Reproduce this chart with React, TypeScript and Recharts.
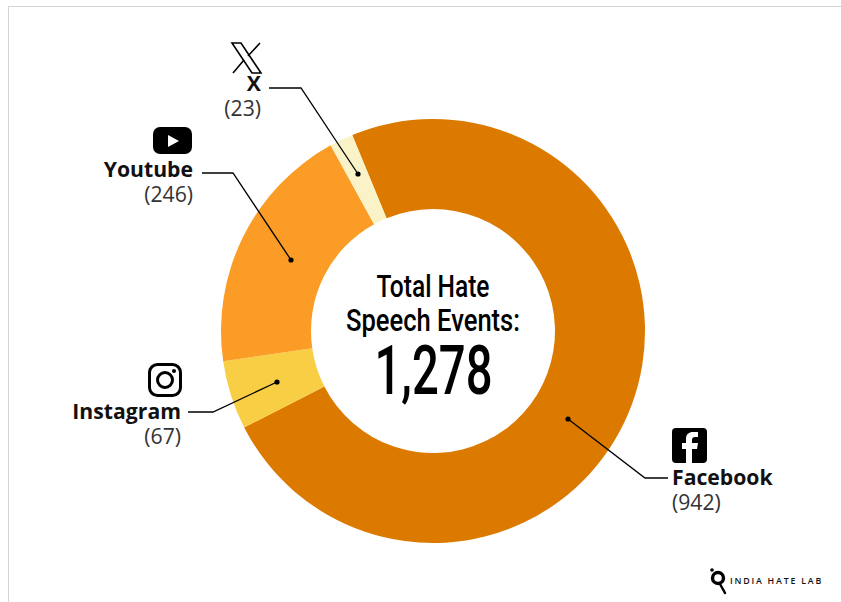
import { PieChart, Pie, Cell } from "recharts";

const platforms = ["Facebook", "Instagram", "Youtube", "X"];
const events = [942, 67, 246, 23];
const sliceColors = ["#DC7A00", "#F8CE45", "#FA9C25", "#FBF3C8"];

const pieData = platforms.map((name, i) => ({ name, value: events[i] }));

const LABEL = "'Open Sans', sans-serif";
const CONDENSED = "Roboto, sans-serif";

// leader polylines: text end -> elbow -> dot inside the slice
const leaders = [
  [[668, 478], [645, 478], [568, 419]],
  [[188, 412], [213, 412], [277, 382]],
  [[202, 173], [233, 173], [291, 260]],
  [[269, 88], [301, 88], [358, 174]],
];
const captionAnchors: { x: number; y: number; anchor: "start" | "end" }[] = [
  { x: 672, y: 485, anchor: "start" },
  { x: 181, y: 419, anchor: "end" },
  { x: 193, y: 177, anchor: "end" },
  { x: 261, y: 91, anchor: "end" },
];

// Pie labels sit above the sectors, so the leaders and their dots stay visible
function SliceLabel({ index }: { index?: number }) {
  const i = index ?? 0;
  const pts = leaders[i];
  const { x, y, anchor } = captionAnchors[i];
  return (
    <g>
      <polyline points={pts.map((p) => p.join(",")).join(" ")} fill="none" stroke="#000" strokeWidth={1.3} />
      <circle cx={pts[2][0]} cy={pts[2][1]} r={2.6} fill="#000" />
      <g fontFamily={LABEL} textAnchor={anchor}>
        <text x={x} y={y} fontSize={21.2} fontWeight={700} fill="#111">{platforms[i]}</text>
        <text x={x} y={y + 25} fontSize={21.2} fill="#333">({events[i]})</text>
      </g>
    </g>
  );
}

function Icons() {
  return (
    <g>
      {/* X */}
      <path d="M232 43H241L261 73H252Z" fill="none" stroke="#000" strokeWidth={1.6} />
      <path d="M260 43L248 56M244 60L233 73" fill="none" stroke="#000" strokeWidth={1.6} />
      {/* Youtube */}
      <rect x={153} y={127} width={39} height={27} rx={7} fill="#000" />
      <path d="M168 135V147L179 141Z" fill="#fff" />
      {/* Instagram */}
      <rect x={149.5} y={364.5} width={31} height={31} rx={8} fill="none" stroke="#000" strokeWidth={3} />
      <circle cx={165} cy={380} r={7.5} fill="none" stroke="#000" strokeWidth={3} />
      <circle cx={174} cy={371} r={2} fill="#000" />
      {/* Facebook */}
      <rect x={672} y={428} width={35} height={35} rx={4} fill="#000" />
      <path d="M686 463V449H682V443H686V439C686 434 689 432 693 432H698V437H695C693 437 692 438 692 440V443H698L697 449H692V463Z" fill="#fff" />
    </g>
  );
}

function Logo() {
  return (
    <g>
      <circle cx={712} cy={570} r={1.8} fill="#000" />
      <circle cx={718} cy={578} r={5.5} fill="none" stroke="#000" strokeWidth={3.4} />
      <path d="M720 584L725 593" stroke="#000" strokeWidth={2.5} strokeLinecap="round" />
      <text x={730} y={584} fontFamily={LABEL} fontSize={8.8} fontWeight={600} letterSpacing={1.8} fill="#111">INDIA HATE LAB</text>
    </g>
  );
}

export default function App() {
  return (
    <div style={{ position: "absolute", left: 0, top: 0, width: 841, height: 602, background: "#fff", overflow: "hidden" }}>
      <div style={{ position: "absolute", left: 8, top: 6, width: 833, height: 596, borderLeft: "1px solid #d4d4d4", borderTop: "1px solid #d4d4d4", boxSizing: "border-box" }} />
      <PieChart width={841} height={602} margin={{ top: 0, right: 0, bottom: 0, left: 0 }} style={{ position: "absolute", left: 0, top: 0 }}>
        <Pie
          data={pieData}
          dataKey="value"
          cx={433}
          cy={331}
          innerRadius={122}
          outerRadius={212}
          startAngle={112.4}
          endAngle={-247.6}
          stroke="none"
          label={(props: { index?: number }) => <SliceLabel index={props.index} />}
          labelLine={false}
          isAnimationActive={false}
        >
          {pieData.map((entry, i) => (
            <Cell key={entry.name} fill={sliceColors[i]} />
          ))}
        </Pie>
        <Icons />
        <g fontFamily={CONDENSED} fontWeight={500} textAnchor="middle" fill="#000">
          <text x={433} y={297} fontSize={32} textLength={113} lengthAdjust="spacingAndGlyphs">Total Hate</text>
          <text x={433} y={331} fontSize={32} textLength={174} lengthAdjust="spacingAndGlyphs">Speech Events:</text>
          <text x={433.5} y={394} fontSize={69} textLength={118} lengthAdjust="spacingAndGlyphs">1,278</text>
        </g>
        <Logo />
      </PieChart>
    </div>
  );
}
